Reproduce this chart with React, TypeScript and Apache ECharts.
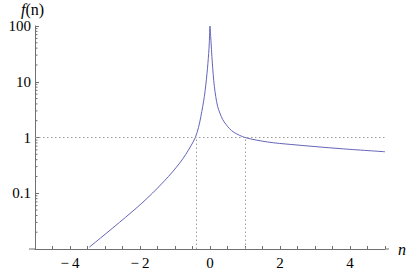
import React, { useEffect, useRef } from "react";
import * as echarts from "echarts";

// Curve samples (n, f(n))
const nValues = [-3.45, -3.0, -2.59, -2.26, -1.97, -1.64, -1.3, -1.07, -0.85, -0.69, -0.55, -0.42, -0.33, -0.26, -0.16, -0.086, -0.038, -0.02, 0, 0.02, 0.067, 0.124, 0.219, 0.362, 0.457, 0.55, 0.69, 1.0, 1.65, 2.31, 3.74, 5.0];
const fValues = [0.01076, 0.0183, 0.0299, 0.0447, 0.0644, 0.101, 0.167, 0.242, 0.359, 0.5, 0.7, 1.0, 1.5, 2.4, 5.5, 14, 32, 50, 100, 65, 21.6, 8.3, 3.6, 2.1, 1.72, 1.455, 1.23, 1.0, 0.83, 0.75, 0.63, 0.555];

// Reference lines
const hLineValue = 1;
const vLineValues = [-0.4, 1];

// Axis ranges and labels
const xMin = -5;
const xMax = 5;
const xLabelValues = [-4, -2, 0, 2, 4];
const yMin = 0.01;
const yMax = 100;
const yLabelValues = [0.1, 1, 10, 100];
const yMinorTickValues = [0.02, 0.03, 0.04, 0.05, 0.06, 0.07, 0.08, 0.09, 0.2, 0.3, 0.4, 0.5, 0.6, 0.7, 0.8, 0.9, 2, 3, 4, 5, 6, 7, 8, 9, 20, 30, 40, 50, 60, 70, 80, 90];

const FONT = "Liberation Serif";
const AXIS = "#707070";

export default function App() {
  const ref = useRef<HTMLDivElement>(null);
  useEffect(() => {
    document.body.style.margin = "0";
    const chart = echarts.init(ref.current!, null, { renderer: "svg" });
    const fmtNum = (v: number) => (v < 0 ? "\u2212\u2009" + Math.abs(v) : String(v));
    chart.setOption({
      animation: false,
      textStyle: { fontFamily: FONT },
      grid: { left: 35, top: 26, width: 350, height: 223 },
      xAxis: {
        type: "value",
        min: xMin,
        max: xMax,
        interval: 0.5,
        splitLine: { show: false },
        axisLine: { show: true, onZero: false, lineStyle: { color: AXIS, width: 1 } },
        axisTick: { show: true, inside: true, length: 3, lineStyle: { color: AXIS } },
        axisLabel: {
          color: "#000",
          fontFamily: FONT,
          fontSize: 15,
          margin: 6,
          formatter: (v: number) => (xLabelValues.some((l) => Math.abs(l - v) < 1e-6) ? fmtNum(v) : ""),
        },
        name: "n",
        nameLocation: "end",
        nameGap: 13,
        nameTextStyle: { fontFamily: FONT, fontStyle: "italic", fontSize: 16, color: "#000", verticalAlign: "middle", padding: [4, 0, 0, 0] },
      },
      yAxis: {
        type: "log",
        logBase: 10,
        min: yMin,
        max: yMax,
        splitNumber: 4,
        splitLine: { show: false },
        axisLine: { show: true, onZero: false, lineStyle: { color: AXIS, width: 1 } },
        axisTick: { show: true, inside: true, length: 4, lineStyle: { color: AXIS } },
        axisLabel: {
          color: "#000",
          fontFamily: FONT,
          fontSize: 15,
          margin: 4,
          formatter: (v: number) => (yLabelValues.some((l) => Math.abs(l - v) / l < 1e-6) ? String(v) : ""),
        },
      },
      series: [
        {
          type: "line",
          data: nValues.map((n, i) => [n, fValues[i]]),
          showSymbol: false,
          smooth: 0.3,
          clip: true,
          lineStyle: { color: "#6464ba", width: 1 },
          markLine: {
            silent: true,
            symbol: "none",
            label: { show: false },
            lineStyle: { color: "#9a9a9a", type: [1.5, 2.5], width: 1 },
            data: [
              [{ coord: [xMin, hLineValue] }, { coord: [xMax, hLineValue] }],
              ...vLineValues.map((v) => [{ coord: [v, yMin] }, { coord: [v, hLineValue] }]),
            ],
          },
        },
        {
          type: "custom",
          data: yMinorTickValues.map((v) => [xMin, v]),
          renderItem: (params: any, api: any) => {
            const p = api.coord([api.value(0), api.value(1)]);
            return {
              type: "line",
              shape: { x1: p[0], y1: p[1], x2: p[0] + 2.5, y2: p[1] },
              style: { stroke: AXIS, lineWidth: 1 },
            };
          },
          silent: true,
        },
      ],
      graphic: [
        { type: "line", shape: { x1: 29, y1: 249, x2: 35, y2: 249 }, style: { stroke: AXIS, lineWidth: 1 } },
        { type: "line", shape: { x1: 385, y1: 249, x2: 389, y2: 249 }, style: { stroke: AXIS, lineWidth: 1 } },
        {
          type: "text",
          left: 21,
          top: 1,
          style: {
            text: "{i|f}(n)",
            fontFamily: FONT,
            fontSize: 16,
            fill: "#000",
            lineHeight: 15,
            rich: { i: { fontStyle: "italic", fontFamily: FONT, fontSize: 16, fill: "#000", lineHeight: 15 } },
          },
        },
      ],
    });
    return () => chart.dispose();
  }, []);
  return <div ref={ref} style={{ position: "absolute", left: 0, top: 0, width: 409, height: 274 }} />;
}
